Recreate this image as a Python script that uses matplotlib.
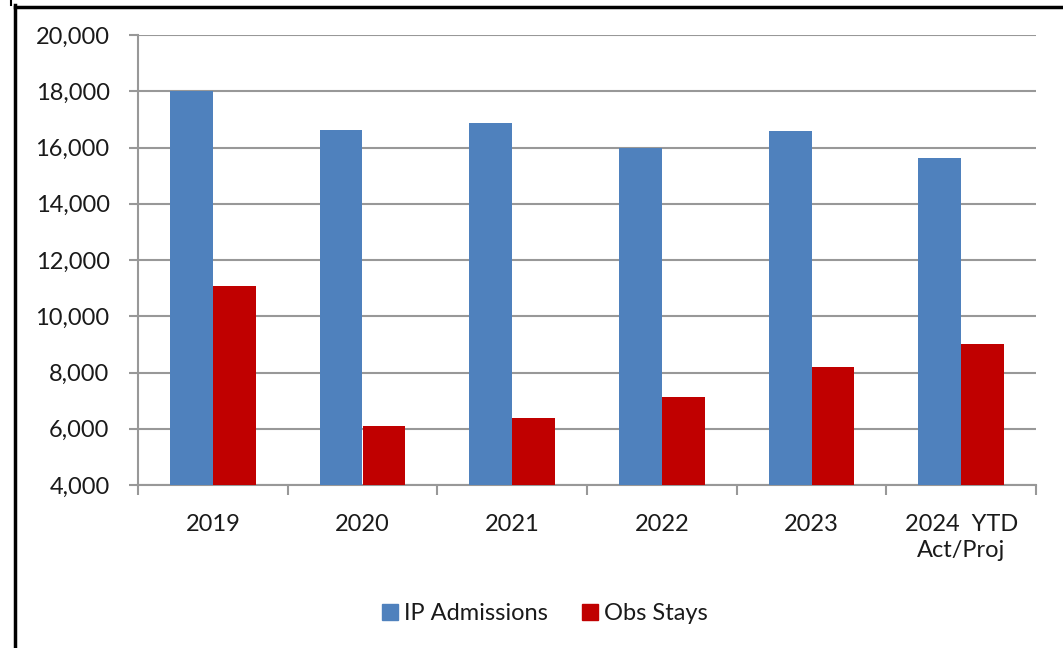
import numpy as np
import matplotlib.pyplot as plt
from matplotlib.lines import Line2D

# chart values
categories = ['2019', '2020', '2021', '2022', '2023', '2024  YTD\nAct/Proj']
ip_admissions = [18020, 16620, 16870, 15990, 16590, 15630]
obs_stays = [11080, 6100, 6380, 7130, 8200, 9010]
y_ticks = [4000, 6000, 8000, 10000, 12000, 14000, 16000, 18000, 20000]

blue = '#4F81BD'
red = '#C00000'
grid_grey = '#989898'
text_col = '#1a1a1a'

plt.rcParams['font.family'] = ['Lato', 'DejaVu Sans']

fig = plt.figure(figsize=(10.63, 6.48), dpi=100)
ax = fig.add_axes([138 / 1063, 1 - 485 / 648, (1036 - 138) / 1063, (485 - 35) / 648])

x = np.arange(len(categories))
w = 0.287
ax.bar(x - w / 2, ip_admissions, w, color=blue, label='IP Admissions', zorder=3)
ax.bar(x + w / 2, obs_stays, w, color=red, label='Obs Stays', zorder=3)

ax.set_ylim(4000, 20000)
ax.set_xlim(-0.5, len(categories) - 0.5)
ax.set_yticks(y_ticks)
ax.set_yticklabels([f'{v:,}' for v in y_ticks])
ax.yaxis.grid(True, color=grid_grey, linewidth=1.5, zorder=0)

# category labels centred, tick marks at the boundaries
ax.set_xticks(x)
ax.set_xticklabels(categories, linespacing=1.3)
ax.set_xticks(np.arange(len(categories) + 1) - 0.5, minor=True)
ax.tick_params(axis='x', which='major', length=0, pad=21, labelsize=17, labelcolor=text_col)
ax.tick_params(axis='x', which='minor', length=7.5, width=1.5, color=grid_grey)
ax.tick_params(axis='y', length=6.5, width=1.5, color=grid_grey, pad=14, labelsize=17, labelcolor=text_col)

for side in ['top', 'right']:
    ax.spines[side].set_visible(False)
for side in ['left', 'bottom']:
    ax.spines[side].set_color(grid_grey)
    ax.spines[side].set_linewidth(1.5)

handles = [Line2D([], [], marker='s', linestyle='none', markersize=11, color=blue),
           Line2D([], [], marker='s', linestyle='none', markersize=11, color=red)]
leg = fig.legend(handles, ['IP Admissions', 'Obs Stays'], loc='center', bbox_to_anchor=(543 / 1063, 1 - 614 / 648),
                 ncol=2, frameon=False, fontsize=17, handletextpad=0.1, columnspacing=1.3, handlelength=1.0)
for t in leg.get_texts():
    t.set_color(text_col)

# black frame fragments at the top and left edges
fig.add_artist(Line2D([15 / 1063, 1], [1 - 6.5 / 648, 1 - 6.5 / 648], color='black', linewidth=2.5))
fig.add_artist(Line2D([15 / 1063, 15 / 1063], [0, 1 - 5 / 648], color='black', linewidth=2.5))
fig.add_artist(Line2D([11 / 1063, 11 / 1063], [1 - 5 / 648, 1], color='black', linewidth=1.5))

fig.savefig('out.png', dpi=100)
